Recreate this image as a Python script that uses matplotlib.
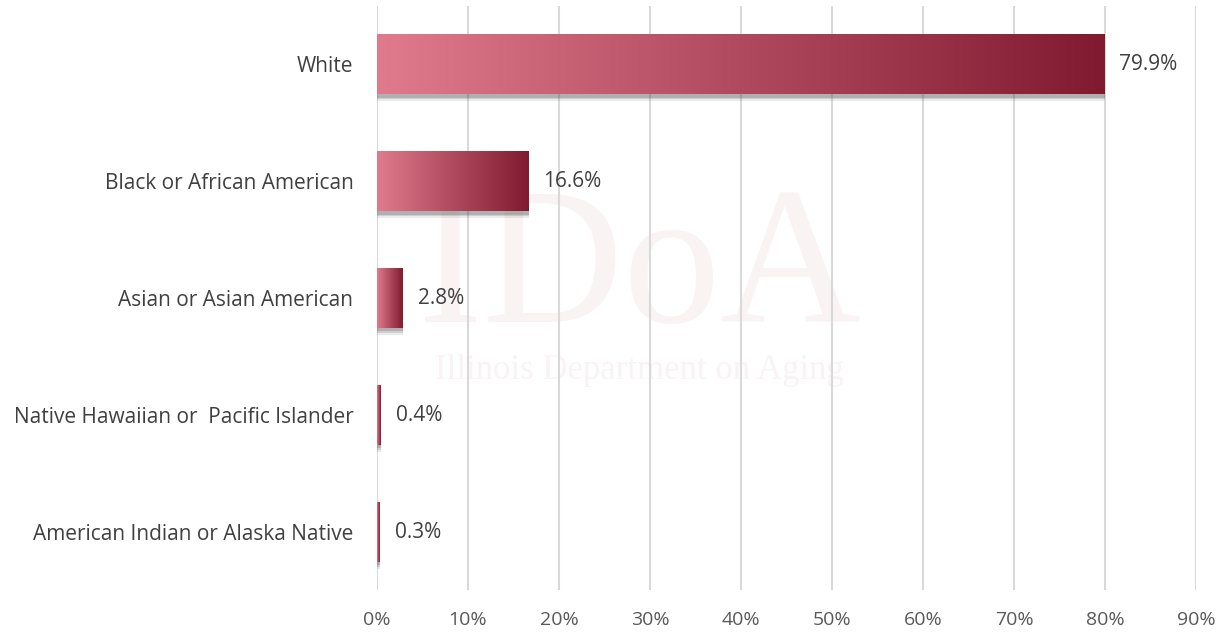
import numpy as np
import matplotlib
matplotlib.use('Agg')
import matplotlib.pyplot as plt
from matplotlib.colors import LinearSegmentedColormap
from matplotlib.patches import Rectangle

# data
categories = ['White', 'Black or African American', 'Asian or Asian American',
              'Native Hawaiian or  Pacific Islander', 'American Indian or Alaska Native']
values = [79.9, 16.6, 2.8, 0.4, 0.3]
xticks = [0, 10, 20, 30, 40, 50, 60, 70, 80, 90]

plt.rcParams['font.family'] = ['Open Sans', 'DejaVu Sans']

fig = plt.figure(figsize=(12.26, 6.39), dpi=100)
ax = fig.add_axes([0.3075, 0.0759, 0.668, 0.915])

grad = LinearSegmentedColormap.from_list('bar', ['#e07b8d', '#7f1a30'])
gradient = np.linspace(0, 1, 256).reshape(1, -1)

# watermark (faint logo text)
ax.text(0.32, 0.54, 'IDoA', transform=ax.transAxes, fontsize=140, family='Liberation Serif',
        color='#8a1f35', alpha=0.05, ha='center', va='center', zorder=0)
ax.text(0.32, 0.377, 'Illinois Department on Aging', transform=ax.transAxes, fontsize=25,
        family='Liberation Serif', color='#8a1f35', alpha=0.05, ha='center', va='center', zorder=0)

ypos = np.arange(len(categories))
bars = ax.barh(ypos, values, height=0.51, color='none', edgecolor='none', zorder=3)

for bar, v in zip(bars, values):
    x0, y0 = bar.get_x(), bar.get_y()
    w, h = bar.get_width(), bar.get_height()
    # soft drop shadow
    for k, a in zip([0.06, 0.045, 0.03], [0.12, 0.18, 0.25]):
        ax.add_patch(Rectangle((x0 + 0.05, y0 + k), w, h, facecolor='#555555',
                               edgecolor='none', alpha=a, zorder=2))
    im = ax.imshow(gradient, cmap=grad, aspect='auto', extent=[x0, x0 + w, y0 + h, y0],
                   zorder=3, interpolation='bicubic')
    im.set_clip_path(bar)
    ax.annotate(f'{v:.1f}%', (v, bar.get_y() + h / 2), xytext=(11, 0),
                textcoords='offset points', va='center', ha='left',
                fontsize=15, color='#404040', zorder=4)

ax.set_xlim(0, 90)
ax.set_ylim(len(categories) - 0.5, -0.5)
ax.set_xticks(xticks)
ax.set_xticklabels([f'{t}%' for t in xticks], fontsize=14, color='#595959')
ax.set_yticks(ypos)
ax.set_yticklabels(categories, fontsize=15, color='#404040')
ax.tick_params(axis='both', length=0)
ax.tick_params(axis='x', pad=15)
ax.tick_params(axis='y', pad=17)
ax.grid(axis='x', color='#d9d9d9', linewidth=1.5, zorder=1)
ax.set_axisbelow(True)
for s in ax.spines.values():
    s.set_visible(False)

fig.savefig('out.png', dpi=100)
